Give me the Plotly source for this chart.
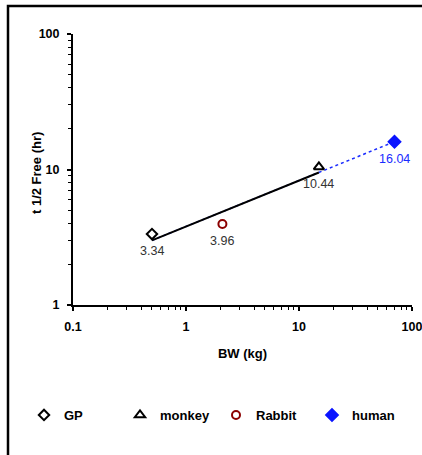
import math
import plotly.graph_objects as go

# Data
species = ["GP", "monkey", "Rabbit", "human"]
bw_kg = [0.5, 15.0, 2.1, 70.0]
t_half = [3.34, 10.44, 3.96, 16.04]

# regression line (solid, GP..monkey) and its extension to human (dotted)
fit_x = [0.5, 15.0]
fit_y = [3.0, 9.5]
ext_x = [0.5, 70.0]
ext_y = [3.0, 16.04]

x_tick_vals = [0.1, 1, 10, 100]
x_tick_text = ["0.1", "1", "10", "100"]
y_tick_vals = [1, 10, 100]
y_tick_text = ["1", "10", "100"]

symbols = ["diamond-open", "triangle-up-open", "circle-open", "diamond"]
sizes = [8, 9, 8, 9]
colors = ["black", "black", "#8B0000", "#0A14FF"]
label_colors = ["#333333", "#333333", "#333333", "#1a2cff"]

W, H = 422, 455
L, R, T, B = 73, 10, 34, 150
pw, ph = W - L - R, H - T - B
FONT = "Liberation Sans, Arial"


def px2paper_x(px):
    return (px - L) / pw


def px2paper_y(py):
    return (H - B - py) / ph


fig = go.Figure()

fig.add_trace(go.Scatter(x=ext_x, y=ext_y, mode="lines",
                         line=dict(color="#1a2cff", width=1.5, dash="dot"),
                         showlegend=False, hoverinfo="skip"))
fig.add_trace(go.Scatter(x=fit_x, y=fit_y, mode="lines",
                         line=dict(color="black", width=2),
                         showlegend=False, hoverinfo="skip"))

for name, xv, yv, sym, sz, col, lc in zip(species, bw_kg, t_half, symbols, sizes, colors, label_colors):
    fig.add_trace(go.Scatter(
        x=[xv], y=[yv], mode="markers", name=name,
        marker=dict(symbol=sym, size=sz, color=col, line=dict(color=col, width=2)),
    ))
    # annotations on log axes take log10 coordinates
    fig.add_annotation(x=math.log10(xv), y=math.log10(yv), xref="x", yref="y",
                       text=f"{yv:.2f}", showarrow=False, yshift=-17,
                       font=dict(family=FONT, size=12.5, color=lc))

# y axis title as rotated annotation
fig.add_annotation(text="t 1/2 Free (hr)", xref="paper", yref="paper",
                   x=px2paper_x(37), y=px2paper_y(173), textangle=-90,
                   showarrow=False, xanchor="center", yanchor="middle",
                   font=dict(family=FONT, size=13, color="black", weight="bold"))

# outer frame (partially cut off at right/bottom like the reference)
fig.add_shape(type="rect", xref="paper", yref="paper",
              x0=px2paper_x(8), x1=px2paper_x(440),
              y0=px2paper_y(470), y1=px2paper_y(6),
              line=dict(color="black", width=2.5), layer="above")

tickfont = dict(family=FONT, size=12.5, color="black", weight="bold")
fig.update_xaxes(type="log", range=[-1, 2], showline=True, linecolor="black", linewidth=2,
                 ticks="outside", ticklen=4, tickwidth=1.5, tickcolor="black",
                 tickvals=x_tick_vals, ticktext=x_tick_text, tickfont=tickfont,
                 ticklabelstandoff=5, ticklabeloverflow="allow",
                 minor=dict(ticks="outside", ticklen=3, tickcolor="black", tickwidth=1,
                            tickvals=[0.2, 0.3, 0.4, 0.5, 0.6, 0.7, 0.8, 0.9, 2, 3, 4, 5, 6, 7, 8, 9,
                                      20, 30, 40, 50, 60, 70, 80, 90]),
                 showgrid=False, zeroline=False,
                 title=dict(text="BW (kg)", standoff=16,
                            font=dict(family=FONT, size=13, color="black", weight="bold")))
fig.update_yaxes(type="log", range=[0, 2], showline=True, linecolor="black", linewidth=2,
                 ticks="outside", ticklen=4, tickwidth=1.5, tickcolor="black",
                 tickvals=y_tick_vals, ticktext=y_tick_text, tickfont=tickfont,
                 ticklabelstandoff=5, ticklabeloverflow="allow",
                 minor=dict(ticks="outside", ticklen=3, tickcolor="black", tickwidth=1,
                            tickvals=[2, 3, 4, 5, 6, 7, 8, 9, 20, 30, 40, 50, 60, 70, 80, 90]),
                 showgrid=False, zeroline=False)

fig.update_layout(
    width=W, height=H,
    margin=dict(l=L, r=R, t=T, b=B, autoexpand=False),
    plot_bgcolor="white", paper_bgcolor="white",
    legend=dict(orientation="h", x=px2paper_x(24), y=px2paper_y(400), xanchor="left", yanchor="top",
                font=dict(family=FONT, size=13, color="black", weight="bold"),
                itemwidth=30, tracegroupgap=0, entrywidth=51, entrywidthmode="pixels"),
)

fig.write_html("out.html", config={"displayModeBar": False},
               post_script="document.body.style.margin='0';")
